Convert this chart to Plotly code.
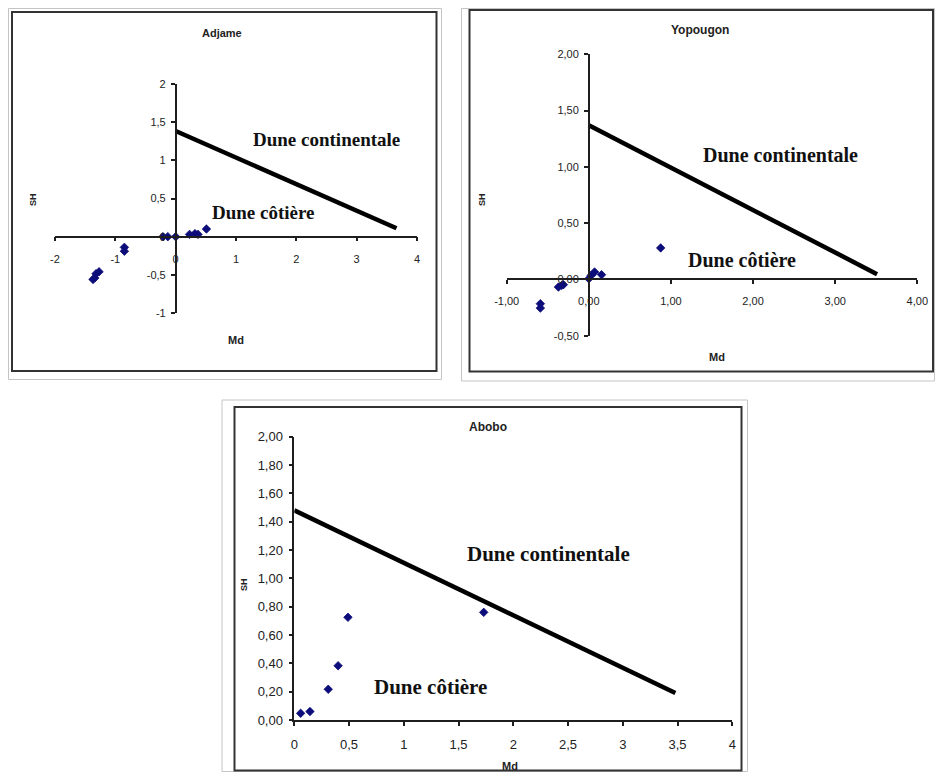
import plotly.graph_objects as go

# page is 943x780; the browser body keeps its 8px margin, so the figure fills the rest
PAGE_W, PAGE_H, OFF = 943, 780, 8
W, H = PAGE_W - 2 * OFF, PAGE_H - 2 * OFF

# ---------------- data ----------------
adj_md = [-1.37, -1.34, -1.32, -1.27, -0.85, -0.85, -0.21, -0.13, 0.0, 0.23, 0.32, 0.37, 0.51]
adj_sk = [-0.56, -0.54, -0.485, -0.46, -0.14, -0.19, 0.0, 0.0, 0.0, 0.03, 0.04, 0.03, 0.10]
adj_line_md = [0.0, 3.66]
adj_line_sk = [1.385, 0.11]

yop_md = [-0.59, -0.59, -0.37, -0.33, -0.31, 0.0, 0.03, 0.07, 0.155, 0.875]
yop_sk = [-0.216, -0.255, -0.068, -0.053, -0.047, 0.006, 0.036, 0.066, 0.042, 0.28]
yop_line_md = [0.0, 3.51]
yop_line_sk = [1.37, 0.047]

abo_md = [0.058, 0.143, 0.31, 0.40, 0.49, 1.73]
abo_sk = [0.047, 0.06, 0.217, 0.383, 0.725, 0.76]
abo_line_md = [0.0, 3.48]
abo_line_sk = [1.48, 0.19]

adj_xticks = [-2, -1, 0, 1, 2, 3, 4]
adj_xtext = ["-2", "-1", "0", "1", "2", "3", "4"]
adj_yticks = [-1, -0.5, 0, 0.5, 1, 1.5, 2]
adj_ytext = ["-1", "-0,5", "0", "0,5", "1", "1,5", "2"]

yop_xticks = [-1, 0, 1, 2, 3, 4]
yop_xtext = ["-1,00", "0,00", "1,00", "2,00", "3,00", "4,00"]
yop_yticks = [-0.5, 0, 0.5, 1, 1.5, 2]
yop_ytext = ["-0,50", "0,00", "0,50", "1,00", "1,50", "2,00"]

abo_xticks = [0, 0.5, 1, 1.5, 2, 2.5, 3, 3.5, 4]
abo_xtext = ["0", "0,5", "1", "1,5", "2", "2,5", "3", "3,5", "4"]
abo_yticks = [0, 0.2, 0.4, 0.6, 0.8, 1.0, 1.2, 1.4, 1.6, 1.8, 2.0]
abo_ytext = ["0,00", "0,20", "0,40", "0,60", "0,80", "1,00", "1,20", "1,40", "1,60", "1,80", "2,00"]

titles = ["Adjame", "Yopougon", "Abobo"]
label_cont = "Dune continentale"
label_cot = "Dune côtière"

# ---------------- helpers ----------------
def px(x):
    return (x - OFF) / W

def py(y):
    return 1 - (y - OFF) / H

MARK = "#0c0c7a"
AXC = "#1e1e1e"
TXT = "#222222"
SANS = "Liberation Sans, Arial, sans-serif"
SERIF = "Liberation Serif, Times New Roman, serif"

fig = go.Figure()

def add_panel(i, md, sk, lmd, lsk):
    xa = "x" if i == 1 else f"x{i}"
    ya = "y" if i == 1 else f"y{i}"
    fig.add_trace(go.Scatter(x=lmd, y=lsk, mode="lines", xaxis=xa, yaxis=ya,
                             line=dict(color="black", width=4.5), showlegend=False,
                             hoverinfo="skip"))
    fig.add_trace(go.Scatter(x=md, y=sk, mode="markers", xaxis=xa, yaxis=ya,
                             marker=dict(symbol="diamond", size=6.5, color=MARK,
                                         line=dict(color=MARK, width=0.8)),
                             showlegend=False))

add_panel(1, adj_md, adj_sk, adj_line_md, adj_line_sk)
add_panel(2, yop_md, yop_sk, yop_line_md, yop_line_sk)
add_panel(3, abo_md, abo_sk, abo_line_md, abo_line_sk)

# pixel frames (page coordinates) of the plot areas
p1 = dict(x0=55, x1=417, yb=313, yt=84, xr=[-2, 4], yr=[-1, 2])
p2 = dict(x0=506.7, x1=917.3, yb=335.7, yt=54.3, xr=[-1, 4], yr=[-0.5, 2])
p3 = dict(x0=294.3, x1=732.3, yb=720, yt=436.7, xr=[0, 4], yr=[0, 2])

def frac(v, r, d):
    return d[0] + (v - r[0]) / (r[1] - r[0]) * (d[1] - d[0])

def axis_common(size):
    return dict(showgrid=False, zeroline=False, showline=True, linecolor=AXC, linewidth=1.5,
                ticks="outside", ticklen=4, tickcolor=AXC, tickwidth=1.5, automargin=False,
                tickfont=dict(family=SANS, size=size, color=TXT), fixedrange=True)

layout = {}
for i, p, xt, xtt, yt, ytt, fs, free in [
        (1, p1, adj_xticks, adj_xtext, adj_yticks, adj_ytext, 11, True),
        (2, p2, yop_xticks, yop_xtext, yop_yticks, yop_ytext, 11, True),
        (3, p3, abo_xticks, abo_xtext, abo_yticks, abo_ytext, 13, False)]:
    xd = [px(p["x0"]), px(p["x1"])]
    yd = [py(p["yb"]), py(p["yt"])]
    xname = "xaxis" if i == 1 else f"xaxis{i}"
    yname = "yaxis" if i == 1 else f"yaxis{i}"
    ya = "y" if i == 1 else f"y{i}"
    xa = "x" if i == 1 else f"x{i}"
    xax = axis_common(fs)
    xax.update(domain=xd, range=p["xr"], tickvals=xt, ticktext=xtt, ticklabelstandoff=8)
    yax = axis_common(fs)
    yax.update(domain=yd, range=p["yr"], tickvals=yt, ticktext=ytt, ticklabelstandoff=3)
    if free:
        xax.update(anchor="free", position=frac(0, p["yr"], yd))
        yax.update(anchor="free", position=frac(0, p["xr"], xd))
    else:
        xax.update(anchor=ya)
        yax.update(anchor=xa)
    layout[xname] = xax
    layout[yname] = yax

fig.update_layout(template="none")
fig.update_layout(**layout)

# ---------------- frames ----------------
shapes = []
outer = [(8.5, 8.5, 441.5, 379.5), (461.5, 8.5, 934.5, 381), (222, 400, 747.5, 771.5)]
inner = [(12, 12, 436.5, 371), (469.5, 10, 933, 371.5), (234.5, 407, 741.5, 770.5)]
for (a, b, c, d) in outer:
    shapes.append(dict(type="rect", xref="paper", yref="paper", x0=px(a), x1=px(c),
                       y0=py(d), y1=py(b), line=dict(color="#c4c4c4", width=1),
                       fillcolor="rgba(0,0,0,0)", layer="below"))
for (a, b, c, d) in inner:
    shapes.append(dict(type="rect", xref="paper", yref="paper", x0=px(a), x1=px(c),
                       y0=py(d), y1=py(b), line=dict(color="#333333", width=2),
                       fillcolor="rgba(0,0,0,0)", layer="below"))

# ---------------- annotations ----------------
ann = []
def ptxt(text, x, y, size, bold=True, angle=0, family=SANS, color=TXT):
    t = f"<b>{text}</b>" if bold else text
    ann.append(dict(text=t, x=px(x), y=py(y), xref="paper", yref="paper", showarrow=False,
                    xanchor="center", yanchor="middle", textangle=angle,
                    font=dict(family=family, size=size, color=color)))

ptxt(titles[0], 222, 33, 11)
ptxt(titles[1], 700, 30, 12)
ptxt(titles[2], 488, 427, 12)
ptxt("SH", 33, 200, 9, angle=-90)
ptxt("SH", 482, 200, 9, angle=-90)
ptxt("SH", 244, 585, 9, angle=-90)
ptxt("Md", 236, 340, 11)
ptxt("Md", 717, 357, 11)
ptxt("Md", 510, 766, 11)

def dtxt(text, i, x, y, size):
    xa = "x" if i == 1 else f"x{i}"
    ya = "y" if i == 1 else f"y{i}"
    ann.append(dict(text=f"<b>{text}</b>", x=x, y=y, xref=xa, yref=ya, showarrow=False,
                    xanchor="center", yanchor="middle",
                    font=dict(family=SERIF, size=size, color="#111111")))

dtxt(label_cont, 1, 2.50, 1.27, 19)
dtxt(label_cot, 1, 1.46, 0.32, 19)
dtxt(label_cont, 2, 2.33, 1.105, 20)
dtxt(label_cot, 2, 1.87, 0.17, 20)
dtxt(label_cont, 3, 2.32, 1.17, 21)
dtxt(label_cot, 3, 1.24, 0.235, 21)

fig.update_layout(width=W, height=H, margin=dict(l=0, r=0, t=0, b=0, pad=0),
                  paper_bgcolor="white", plot_bgcolor="rgba(0,0,0,0)",
                  shapes=shapes, annotations=ann, showlegend=False)

fig.write_html("out.html", config={"displayModeBar": False})
